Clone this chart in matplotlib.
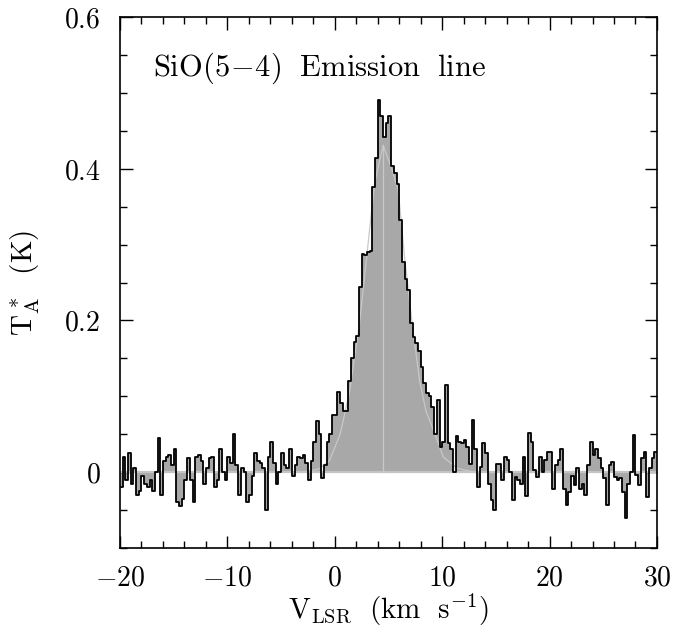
import matplotlib
matplotlib.use("Agg")
import matplotlib.pyplot as plt
import numpy as np
from matplotlib.ticker import MultipleLocator, FuncFormatter

plt.rcParams['mathtext.fontset'] = 'cm'
plt.rcParams['font.family'] = ['DejaVu Serif']

# channel grid: 0.25 km/s channels starting at -20 km/s
v_start = -20.0
chan_width = 0.25

# antenna temperature per channel (K), 20 channels per row
t_a = [
    -0.020, 0.020, -0.010, 0.025, -0.015, 0.005, -0.030, -0.025, -0.005, -0.015,
    -0.020, -0.010, -0.025, 0.000, 0.045, -0.030, 0.015, 0.020, 0.022, 0.010,
    0.030, -0.040, -0.045, -0.035, -0.010, 0.018, -0.010, -0.040, 0.020, 0.022,
    0.015, -0.015, 0.005, 0.018, 0.020, -0.020, -0.010, 0.030, 0.000, -0.010,
    0.020, 0.012, 0.050, 0.010, -0.030, 0.005, 0.000, -0.040, -0.030, -0.005,
    0.025, 0.015, 0.012, 0.005, -0.050, 0.020, 0.040, 0.012, -0.015, 0.000,
    0.025, 0.010, 0.005, 0.030, -0.005, 0.010, 0.020, 0.018, 0.022, 0.012,
    -0.010, 0.015, 0.040, 0.068, 0.050, -0.008, 0.010, 0.040, 0.050, 0.075,
    0.075, 0.106, 0.091, 0.080, 0.080, 0.120, 0.150, 0.172, 0.180, 0.244,
    0.288, 0.286, 0.290, 0.292, 0.376, 0.414, 0.490, 0.470, 0.442, 0.460,
    0.469, 0.403, 0.394, 0.380, 0.332, 0.277, 0.255, 0.240, 0.196, 0.178,
    0.170, 0.160, 0.139, 0.117, 0.104, 0.101, 0.086, 0.050, 0.095, 0.033,
    0.040, 0.115, 0.038, 0.030, 0.000, 0.047, 0.040, 0.038, 0.042, 0.033,
    0.011, 0.069, 0.030, -0.019, 0.007, 0.038, 0.025, -0.015, -0.037, -0.050,
    0.011, 0.011, -0.010, 0.020, 0.016, 0.000, -0.037, -0.006, -0.010, -0.015,
    0.020, -0.032, 0.051, 0.040, 0.003, -0.006, 0.020, 0.000, 0.016, 0.027,
    0.027, -0.022, 0.009, 0.016, 0.031, -0.022, -0.043, -0.026, -0.005, -0.017,
    0.005, -0.022, -0.015, -0.030, 0.009, 0.040, 0.022, 0.031, 0.018, 0.005,
    -0.008, -0.043, 0.009, 0.014, -0.006, -0.010, -0.008, -0.026, -0.061, -0.015,
    0.000, 0.049, -0.004, -0.017, 0.018, 0.027, -0.033, 0.005, 0.018, 0.027,
]

# fitted profile, sampled off the plot
fit_v = [-3.0, -1.5, -0.5, 0.5, 1.4, 2.3, 3.0, 3.7, 4.5, 5.3, 5.9, 6.5, 7.2, 7.9, 8.5, 9.2, 10.1, 11.4, 13.0]
fit_t = [0.0, 0.004, 0.015, 0.05, 0.108, 0.196, 0.288, 0.38, 0.431, 0.40, 0.372, 0.283, 0.196, 0.12, 0.08, 0.055, 0.02, 0.005, 0.0]
v_peak = 4.5
t_peak = 0.431

edges = v_start + chan_width * np.arange(len(t_a) + 1)
t_steps = np.append(t_a, t_a[-1])

fig = plt.figure(figsize=(6.75, 6.33), dpi=100)
ax = fig.add_axes([0.1778, 0.1343, 0.7955, 0.8388])

ax.fill_between(edges, t_steps, 0, step='post', color='#a8a8a8', lw=0, zorder=1)
ax.axhline(0, color='#c4c4c4', lw=1.6, zorder=2)
ax.plot(fit_v, fit_t, color='#c8c8c8', lw=0.9, zorder=2)
ax.plot([v_peak, v_peak], [0, t_peak], color='#c8c8c8', lw=0.9, zorder=2)
ax.step(edges, t_steps, where='post', color='black', lw=1.3, zorder=3)

ax.set_xlim(-20, 30)
ax.set_ylim(-0.1, 0.6)

ax.xaxis.set_major_locator(MultipleLocator(10))
ax.xaxis.set_minor_locator(MultipleLocator(2))
ax.yaxis.set_major_locator(MultipleLocator(0.2))
ax.yaxis.set_minor_locator(MultipleLocator(0.05))

fmt = FuncFormatter(lambda x, pos: '$%g$' % round(x, 3))
ax.xaxis.set_major_formatter(fmt)
ax.yaxis.set_major_formatter(fmt)

ax.tick_params(which='both', direction='in', top=True, right=True, width=1.0)
ax.tick_params(which='major', length=9, labelsize=20)
ax.tick_params(axis='x', which='major', pad=12)
ax.tick_params(axis='y', which='major', pad=14)
ax.tick_params(which='minor', length=5)
for s in ax.spines.values():
    s.set_linewidth(1.2)

ax.set_xlabel(r'$\mathrm{V_{LSR}\ \ (km\ \ s^{-1})}$', fontsize=21, labelpad=0)
ax.set_ylabel(r'$\mathrm{T_A^{\,*}\ \ (K)}$', fontsize=21, labelpad=16)

ax.text(0.061, 0.89, r'$\mathrm{SiO(5\!-\!4)\ \ Emission\ \ line}$', transform=ax.transAxes,
        fontsize=22, va='baseline', ha='left')

fig.savefig('out.png', dpi=100)
